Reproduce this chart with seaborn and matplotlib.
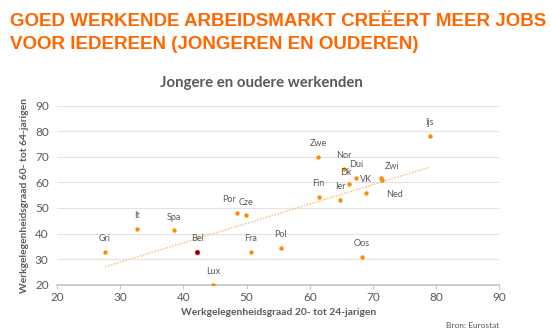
import numpy as np
import pandas as pd
import matplotlib
matplotlib.use("Agg")
import matplotlib.pyplot as plt
import seaborn as sns

# Data
countries = ["Ijs", "Zwe", "Nor", "Dui", "Dk", "Zwi", "Ned", "VK", "Fin", "Ier",
             "Oos", "Pol", "Gri", "It", "Spa", "Bel", "Lux", "Por", "Cze", "Fra"]
youth = [79.0, 61.3, 65.4, 67.3, 66.2, 71.3, 71.5, 68.9, 61.4, 64.8,
         68.2, 55.4, 27.6, 32.7, 38.5, 42.2, 44.7, 48.5, 49.9, 50.7]
older = [78.3, 70.0, 65.1, 61.8, 59.4, 61.6, 61.0, 55.7, 54.2, 53.3,
         31.0, 34.2, 32.9, 41.7, 41.3, 32.9, 20.0, 48.0, 47.1, 32.7]
# label offsets in points (dx, dy)
label_dx = [0, 0, 0, 0, -2, 8, 9, 0, 0, 0, 0, 0, 0, 0, 0, 0, 0, -6, 0, 0]
label_dy = [6.5, 6.5, 6.5, 6.5, 5, 5, -7.5, 6.5, 7, 6.5, 6.5, 6.5, 6.5, 6.5, 6, 6.5, 6.5, 6.5, 6, 7]
highlight = "Bel"

df = pd.DataFrame({"land": countries, "jong": youth, "oud": older})

sns.set_theme(style="white")
plt.rcParams["font.family"] = ["Lato", "DejaVu Sans"]

fig = plt.figure(figsize=(5.53, 3.32), dpi=100)
ax = fig.add_axes([0.103, 0.1425, 0.800, 0.539])

# trend line (least squares over all points)
coef = np.polyfit(df["jong"], df["oud"], 1)
xs = np.array([df["jong"].min(), df["jong"].max()])
ax.plot(xs, np.polyval(coef, xs), linestyle=(0, (1, 1)), color="#F9C27E", lw=1.1, zorder=2)

sns.scatterplot(data=df[df["land"] != highlight], x="jong", y="oud",
                color="#FF8C00", s=10, linewidth=0, legend=False, ax=ax, zorder=3)
bel = df[df["land"] == highlight]
ax.scatter(bel["jong"], bel["oud"], s=10, color="#6B0010", edgecolors="#E0202A", linewidths=0.7, zorder=4)

for name, x, y, dx, dy in zip(countries, youth, older, label_dx, label_dy):
    ax.annotate(name, (x, y), xytext=(dx, dy), textcoords="offset points",
                ha="center", va="bottom" if dy > 0 else "top",
                fontsize=6.5, color="#595959")

ax.set_xlim(20, 90)
ax.set_ylim(20, 90)
ax.set_xticks(range(20, 91, 10))
ax.set_yticks(range(20, 91, 10))
ax.yaxis.grid(True, color="#E3E3E3", lw=0.8)
ax.set_axisbelow(True)
for s in ["top", "right", "left"]:
    ax.spines[s].set_visible(False)
ax.spines["bottom"].set_color("#C8C8C8")
ax.tick_params(axis="x", length=3, width=0.8, color="#C8C8C8", labelsize=8.5, labelcolor="#595959", pad=2, bottom=True)
ax.tick_params(axis="y", length=0, labelsize=8.5, labelcolor="#595959", pad=6)

ax.set_xlabel("Werkgelegenheidsgraad 20- tot 24-jarigen", fontsize=7.4, fontweight="bold", color="#595959", labelpad=4)
ax.set_ylabel("Werkgelegenheidsgraad 60- tot 64-jarigen", fontsize=7.4, fontweight="bold", color="#595959", labelpad=4)

fig.text(0.472, 0.751, "Jongere en oudere werkenden", ha="center", va="center",
         fontsize=10.8, fontweight="bold", color="#595959")

fig.text(0.018, 0.921, "GOED WERKENDE ARBEIDSMARKT CREËERT MEER JOBS", ha="left", va="baseline",
         fontsize=13.5, fontweight="bold", color="#FF6600", family=["Liberation Sans", "DejaVu Sans"])
fig.text(0.018, 0.852, "VOOR IEDEREEN (JONGEREN EN OUDEREN)", ha="left", va="baseline",
         fontsize=13.5, fontweight="bold", color="#FF6600", family=["Liberation Sans", "DejaVu Sans"])

fig.text(0.903, 0.019, "Bron: Eurostat", ha="right", va="center", fontsize=6, color="#595959")

fig.savefig("out.png", dpi=100)
